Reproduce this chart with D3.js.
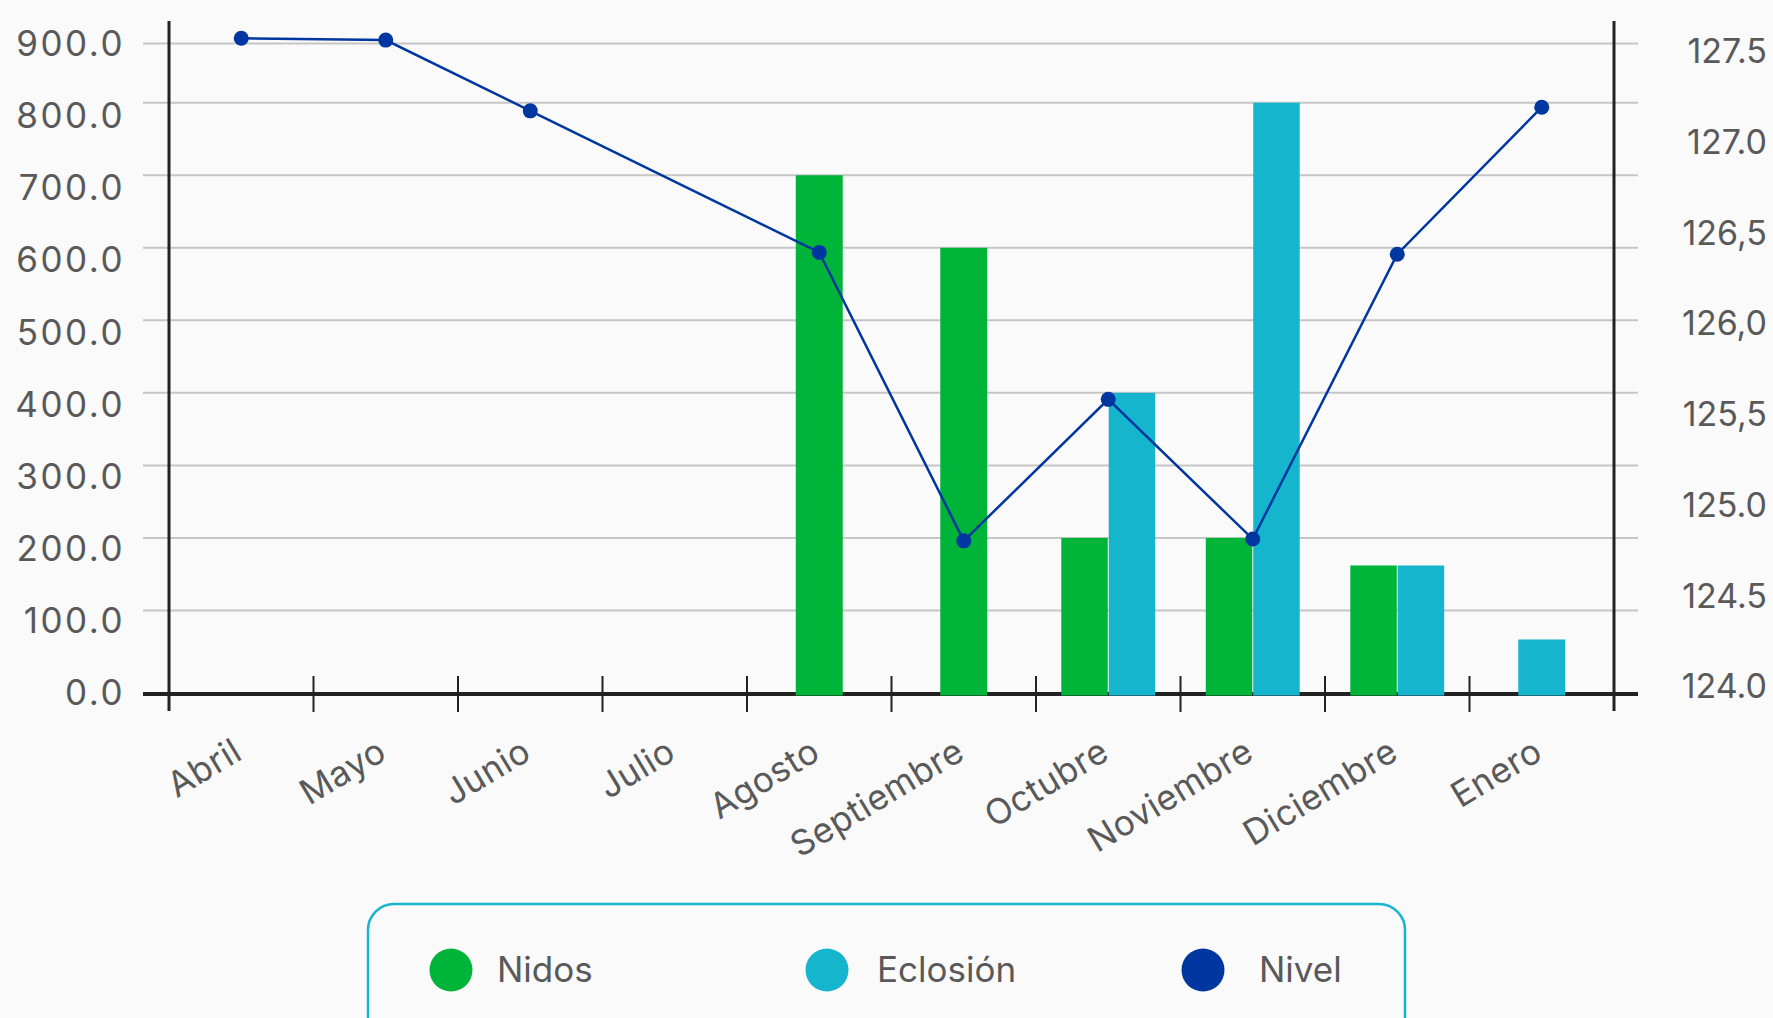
<!DOCTYPE html>
<html>
<head>
<meta charset="utf-8">
<script src="https://cdn.jsdelivr.net/npm/d3@7"></script>
<style>
  html, body { margin: 0; padding: 0; background: #fafafa; }
  svg { display: block; font-family: Inter, "Noto Sans", sans-serif; }
</style>
</head>
<body>
<div id="chart"></div>
<script>
// months on the x axis
const months = ["Abril", "Mayo", "Junio", "Julio", "Agosto", "Septiembre", "Octubre", "Noviembre", "Diciembre", "Enero"];

// bar series (left axis)
const nidos = [0, 0, 0, 0, 700, 600, 200, 200, 162, 0];
const eclosion = [0, 0, 0, 0, 0, 0, 400, 800, 162, 60];

// line series (right axis), Julio has no reading
const nivel = [127.57, 127.56, 127.17, null, 126.39, 124.80, 125.58, 124.81, 126.38, 127.19];

// axis ticks
const leftTicks = [0, 100, 200, 300, 400, 500, 600, 700, 800, 900];
const rightTicks = [124.0, 124.5, 125.0, 125.5, 126.0, 126.5, 127.0, 127.5];
const rightTickLabels = ["124.0", "124.5", "125.0", "125,5", "126,0", "126,5", "127.0", "127.5"];

const seriesNames = ["Nidos", "Eclosión", "Nivel"];
const colors = {"Nidos": "#00b43a", "Eclosión": "#15b5cd", "Nivel": "#0036a0"};

class ComboChart {

  constructor(_config) {
    this.config = {
      parentElement: _config.parentElement,
      containerWidth: 1773,
      containerHeight: 1018,
      plotLeft: 169,
      plotRight: 1614,
      plotTop: 21,
      baseY: 694
    };
    this.initVis();
  }

  initVis() {
    let vis = this;
    const c = vis.config;

    vis.svg = d3.select(c.parentElement).append('svg')
        .attr('width', c.containerWidth)
        .attr('height', c.containerHeight);

    vis.svg.append('rect')
        .attr('width', c.containerWidth)
        .attr('height', c.containerHeight)
        .attr('fill', '#fafafa');

    // x: one band per month
    vis.x = d3.scaleBand().domain(months).range([c.plotLeft, c.plotRight]);

    // bar scale, label scale and right scale
    vis.yBar = d3.scaleLinear().domain([0, 800]).range([683, 102.7]);
    vis.yLab = d3.scaleLinear().domain([0, 900]).range([692.5, 43.5]);
    vis.yR = d3.scaleLinear().domain([124, 127.5]).range([686, 51]);

    vis.renderVis();
  }

  renderVis() {
    let vis = this;
    const c = vis.config;

    // gridlines
    const grid = vis.svg.append('g');
    grid.selectAll('line.g')
        .data(leftTicks.slice(1, -1))
      .join('line')
        .attr('x1', 143).attr('x2', 1638)
        .attr('y1', d => vis.yBar(d)).attr('y2', d => vis.yBar(d))
        .attr('stroke', '#c6c6c6').attr('stroke-width', 2);
    grid.append('line')
        .attr('x1', 143).attr('x2', 1638)
        .attr('y1', vis.yLab(900)).attr('y2', vis.yLab(900))
        .attr('stroke', '#c6c6c6').attr('stroke-width', 2);

    // x axis baseline + ticks
    vis.svg.append('line')
        .attr('x1', 143).attr('x2', 1638)
        .attr('y1', c.baseY).attr('y2', c.baseY)
        .attr('stroke', '#222').attr('stroke-width', 4);

    const edges = months.map(m => vis.x(m)).concat([c.plotRight]);
    vis.svg.append('g').selectAll('line')
        .data(edges.slice(1, -1))
      .join('line')
        .attr('x1', d => d).attr('x2', d => d)
        .attr('y1', 676).attr('y2', 712)
        .attr('stroke', '#222').attr('stroke-width', 2);

    // vertical axes
    [c.plotLeft, c.plotRight].forEach(xx => {
      vis.svg.append('line')
          .attr('x1', xx).attr('x2', xx)
          .attr('y1', c.plotTop).attr('y2', 711)
          .attr('stroke', '#222').attr('stroke-width', 3);
    });

    // bars, only non-zero series, centered in the band
    const barW = vis.x.bandwidth() * 0.325;
    const groups = vis.svg.append('g').selectAll('g')
        .data(months.map((m, i) => ({
          month: m,
          bars: [{key: "Nidos", v: nidos[i]}, {key: "Eclosión", v: eclosion[i]}].filter(b => b.v > 0)
        })))
      .join('g')
        .attr('transform', d => `translate(${vis.x(d.month) + vis.x.bandwidth() / 2},0)`);

    groups.each(function(d) {
      const n = d.bars.length;
      const inner = d3.scaleBand()
          .domain(d.bars.map(b => b.key))
          .range([-n * barW / 2, n * barW / 2])
          .paddingInner(n > 1 ? 0.02 : 0);
      d3.select(this).selectAll('rect')
          .data(d.bars)
        .join('rect')
          .attr('x', b => inner(b.key))
          .attr('width', inner.bandwidth())
          .attr('y', b => vis.yBar(b.v))
          .attr('height', b => c.baseY + 1.5 - vis.yBar(b.v))
          .attr('fill', b => colors[b.key]);
    });

    // line (Julio skipped, line connects across)
    const pts = months.map((m, i) => ({month: m, v: nivel[i]})).filter(d => d.v != null);
    const line = d3.line()
        .x(d => vis.x(d.month) + vis.x.bandwidth() / 2)
        .y(d => vis.yR(d.v));
    vis.svg.append('path')
        .datum(pts)
        .attr('d', line)
        .attr('fill', 'none')
        .attr('stroke', colors["Nivel"])
        .attr('stroke-width', 2.5);
    vis.svg.append('g').selectAll('circle')
        .data(pts)
      .join('circle')
        .attr('cx', d => vis.x(d.month) + vis.x.bandwidth() / 2)
        .attr('cy', d => vis.yR(d.v))
        .attr('r', 7.5)
        .attr('fill', colors["Nivel"]);

    // left labels (the original font has wide zeros, so a bit of spacing)
    vis.svg.append('g').selectAll('text')
        .data(leftTicks)
      .join('text')
        .attr('x', 125)
        .attr('y', d => vis.yLab(d))
        .attr('dy', '0.36em')
        .attr('text-anchor', 'end')
        .attr('font-size', 35)
        .attr('letter-spacing', 2.5)
        .attr('fill', '#595959')
        .text(d => d3.format('.1f')(d));

    // right labels
    vis.svg.append('g').selectAll('text')
        .data(rightTicks)
      .join('text')
        .attr('x', 1767)
        .attr('y', d => vis.yR(d))
        .attr('dy', '0.36em')
        .attr('text-anchor', 'end')
        .attr('font-size', 34)
        .attr('fill', '#595959')
        .text((d, i) => rightTickLabels[i]);

    // month labels, rotated
    vis.svg.append('g').selectAll('text')
        .data(months)
      .join('text')
        .attr('transform', d => `translate(${vis.x(d) + vis.x.bandwidth() / 2 + 3},758) rotate(-31)`)
        .attr('text-anchor', 'end')
        .attr('font-size', 35)
        .attr('letter-spacing', 0.5)
        .attr('fill', '#595959')
        .text(d => d);

    // legend
    const legend = vis.svg.append('g');
    legend.append('rect')
        .attr('x', 368).attr('y', 904)
        .attr('width', 1037).attr('height', 160)
        .attr('rx', 26)
        .attr('fill', 'none')
        .attr('stroke', '#15b5cd')
        .attr('stroke-width', 2.5);
    const lx = d3.scalePoint().domain(seriesNames).range([451, 1203]);
    const items = legend.selectAll('g.item')
        .data(seriesNames)
      .join('g')
        .attr('transform', d => `translate(${lx(d)},970)`);
    items.append('circle')
        .attr('r', 21.5)
        .attr('fill', d => colors[d]);
    items.append('text')
        .attr('x', (d, i) => [46, 50, 56][i])
        .attr('y', 12)
        .attr('font-size', 35)
        .attr('fill', '#595959')
        .text(d => d);
  }
}

new ComboChart({parentElement: '#chart'});
</script>
</body>
</html>
